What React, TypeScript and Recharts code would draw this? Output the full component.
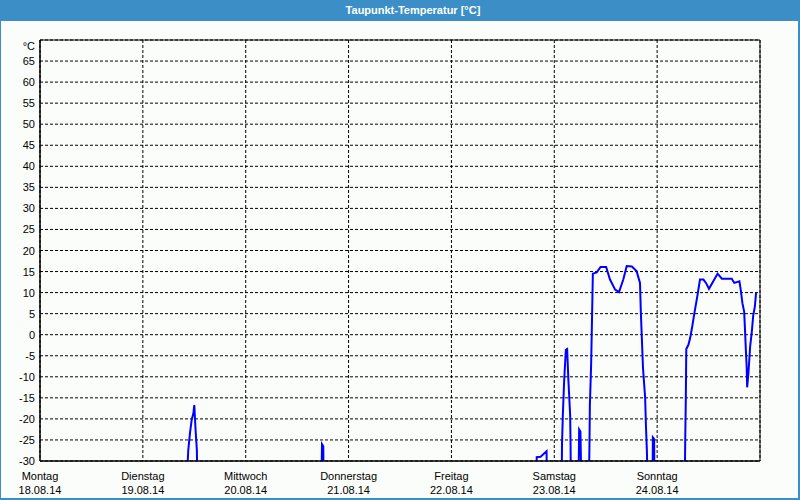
import { LineChart, Line, XAxis, YAxis, CartesianGrid, ReferenceArea } from 'recharts';

// hours since Monday 00:00, values below -30 fall off the chart
const hours = [
  0,
  34.0, 34.6, 35.0, 35.4, 35.8, 36.0, 36.3, 36.6, 36.8,
  65.6, 65.8, 66.1, 66.2,
  115.8, 115.9, 116.8, 118.2, 118.3,
  121.7, 121.8, 122.0, 122.3, 122.7, 123.0, 123.3, 123.7, 123.8, 123.9,
  125.6, 125.8, 126.1, 126.4,
  128.0, 128.2, 128.3, 128.6, 128.8, 129.0, 129.9, 130.8, 132.1, 133.0, 134.2, 135.1, 136.1, 136.9, 138.1, 139.2, 140.0, 140.2, 140.7, 141.2, 141.4, 141.6, 141.9,
  142.9, 143.0, 143.3, 143.4,
  150.4, 150.55, 150.7, 150.8, 151.3, 151.7, 152.2, 152.7, 153.1, 153.5, 154.0, 154.8, 155.4, 156.1, 157.1, 158.1, 159.1, 161.4, 162.0, 163.2, 163.5, 163.9, 164.3, 164.5, 164.7, 164.9, 165.0, 165.3, 165.7, 166.1, 166.4, 166.8, 167.1,
];

const dewPoint = [
  -40,
  -40, -27.4, -23.3, -20.2, -18.6, -16.7, -22.6, -27.4, -40,
  -40, -26, -26.5, -40,
  -40, -29.1, -29, -27.7, -40,
  -40, -26, -19, -11, -3.6, -3.4, -11, -19, -26, -40,
  -40, -22.5, -23, -40,
  -40, -27, -17, -7, 3.6, 14.5, 14.8, 16.1, 16.1, 13.1, 10.7, 10.1, 13.1, 16.3, 16.2, 15.1, 12.3, 5.2, -7.9, -15, -22, -27.4, -40,
  -40, -24.4, -24.8, -40,
  -40, -25.4, -14.5, -3.4, -2.4, -0.8, 2, 5.2, 7.5, 9.9, 13.1, 13.1, 12.3, 10.9, 12.7, 14.5, 13.3, 13.3, 12.3, 12.7, 10.7, 7.5, 5.5, 1.2, -3.6, -7.9, -12.5, -9.1, -2.8, 0.8, 4.4, 6.7, 10.1,
];

const dayTicks = [0, 24, 48, 72, 96, 120, 144];
const dayNames = ['Montag', 'Dienstag', 'Mittwoch', 'Donnerstag', 'Freitag', 'Samstag', 'Sonntag'];
const dates = ['18.08.14', '19.08.14', '20.08.14', '21.08.14', '22.08.14', '23.08.14', '24.08.14'];
const tempTicks = [-30, -25, -20, -15, -10, -5, 0, 5, 10, 15, 20, 25, 30, 35, 40, 45, 50, 55, 60, 65, 70];

const chartData = hours.map((h, i) => ({ h, value: dewPoint[i] }));

const BLUE = '#3c8fc6';

const DayTick = ({ x, y, index }: any) => (
  <g>
    <text x={x} y={y + 19} textAnchor="middle" fontSize={11} fill="#000">{dayNames[index]}</text>
    <text x={x} y={y + 33} textAnchor="middle" fontSize={11} fill="#000">{dates[index]}</text>
  </g>
);

const TempTick = ({ x, y, payload }: any) => (
  <text x={x} y={y} dy={payload.value === 70 ? 10 : 4} textAnchor="end" fontSize={11} fill="#000">
    {payload.value === 70 ? '°C' : payload.value}
  </text>
);

export default function App() {
  return (
    <div
      style={{
        position: 'absolute',
        left: 0,
        top: 0,
        width: 800,
        height: 500,
        background: '#fbfdfb',
        fontFamily: '"Liberation Sans", Arial, sans-serif',
      }}
    >
      <LineChart width={800} height={500} data={chartData} margin={{ top: 40, right: 40, bottom: 0, left: 0 }}>
        <CartesianGrid stroke="#000" strokeDasharray="3 2" />
        <XAxis
          dataKey="h"
          type="number"
          domain={[0, 168]}
          ticks={dayTicks}
          interval={0}
          height={39}
          tickLine={false}
          tickSize={0}
          tickMargin={0}
          axisLine={{ stroke: '#000' }}
          tick={<DayTick />}
        />
        <YAxis
          type="number"
          domain={[-30, 70]}
          ticks={tempTicks}
          interval={0}
          allowDataOverflow
          width={40}
          tickLine={false}
          tickSize={0}
          tickMargin={5}
          axisLine={{ stroke: '#000' }}
          tick={<TempTick />}
        />
        <ReferenceArea x1={0} x2={168} y1={-30} y2={70} fill="none" stroke="#000" strokeWidth={1} ifOverflow="visible" />
        <Line
          type="linear"
          dataKey="value"
          stroke="#0000ff"
          strokeWidth={2}
          dot={false}
          activeDot={false}
          isAnimationActive={false}
        />
      </LineChart>
      <div
        style={{
          position: 'absolute',
          left: 0,
          top: 0,
          width: 800,
          height: 21,
          boxSizing: 'border-box',
          paddingLeft: 26,
          background: BLUE,
          color: '#fff',
          fontWeight: 'bold',
          fontSize: 11,
          lineHeight: '21px',
          textAlign: 'center',
        }}
      >
        Taupunkt-Temperatur [°C]
      </div>
      <div
        style={{
          position: 'absolute',
          left: 0,
          top: 0,
          width: 800,
          height: 500,
          boxSizing: 'border-box',
          borderLeft: `1px solid ${BLUE}`,
          borderRight: `2px solid ${BLUE}`,
          borderBottom: `2px solid ${BLUE}`,
          pointerEvents: 'none',
        }}
      />
    </div>
  );
}
